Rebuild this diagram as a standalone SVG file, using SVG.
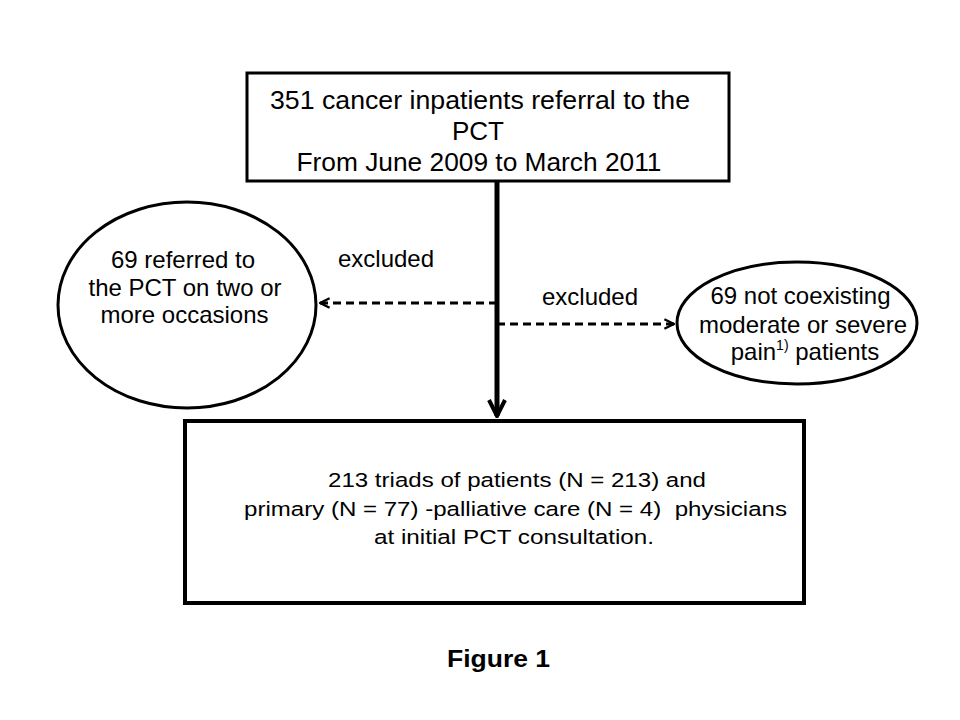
<svg xmlns="http://www.w3.org/2000/svg" width="960" height="720" viewBox="0 0 960 720">
<style>
text{font-family:"Liberation Sans",Arial,sans-serif;fill:#000;text-anchor:middle}
.t{font-size:26px}
.e{font-size:24px}
.b{font-size:20.5px}
.node{fill:#fff;stroke:#000}
.dash{fill:none;stroke:#000;stroke-width:3;stroke-dasharray:8 5}
</style>
<defs>
<marker id="open" viewBox="0 0 10 10" refX="9" refY="5" markerWidth="4" markerHeight="4" orient="auto" markerUnits="strokeWidth">
<path d="M1,1 L9,5 L1,9" fill="none" stroke="#000" stroke-width="2"/>
</marker>
</defs>
<rect width="960" height="720" fill="#fff"/>
<g id="connectors">
<line x1="497" y1="181" x2="497" y2="416" stroke="#000" stroke-width="5" marker-end="url(#open)"/>
<line x1="497" y1="303" x2="320" y2="303" class="dash" marker-end="url(#open)"/>
<line x1="497" y1="324" x2="674" y2="324" class="dash" marker-end="url(#open)"/>
<text class="e" x="386" y="267">excluded</text>
<text class="e" x="590" y="305">excluded</text>
</g>
<g id="top">
<rect class="node" x="247" y="73" width="482" height="108" stroke-width="3"/>
<text class="t" x="480" y="109" textLength="420" lengthAdjust="spacingAndGlyphs">351 cancer inpatients referral to the</text>
<text class="t" x="478" y="140">PCT</text>
<text class="t" x="479" y="171" textLength="365" lengthAdjust="spacingAndGlyphs">From June 2009 to March 2011</text>
</g>
<g id="left">
<ellipse class="node" cx="187" cy="305" rx="129" ry="103" stroke-width="3"/>
<text class="e" x="183" y="268">69 referred to</text>
<text class="e" x="185" y="296">the PCT on two or</text>
<text class="e" x="184.5" y="323">more occasions</text>
</g>
<g id="right">
<ellipse class="node" cx="797" cy="323" rx="120" ry="61" stroke-width="3"/>
<text class="e" x="800.5" y="304">69 not coexisting</text>
<text class="e" x="803" y="333">moderate or severe</text>
<text class="e" x="805" y="360">pain<tspan font-size="14" dy="-10">1)</tspan><tspan dy="10"> patients</tspan></text>
</g>
<g id="bottom">
<rect class="node" x="185" y="421" width="619" height="182" stroke-width="4"/>
<text class="b" x="517" y="487" textLength="378" lengthAdjust="spacingAndGlyphs">213 triads of patients (N = 213) and</text>
<text class="b" x="515.5" y="515.5" textLength="543" lengthAdjust="spacingAndGlyphs" xml:space="preserve">primary (N = 77) -palliative care (N = 4)  physicians</text>
<text class="b" x="514" y="544" textLength="280" lengthAdjust="spacingAndGlyphs">at initial PCT consultation.</text>
</g>
<text x="498.5" y="667" font-size="24" font-weight="bold" textLength="103" lengthAdjust="spacingAndGlyphs">Figure 1</text>
</svg>
